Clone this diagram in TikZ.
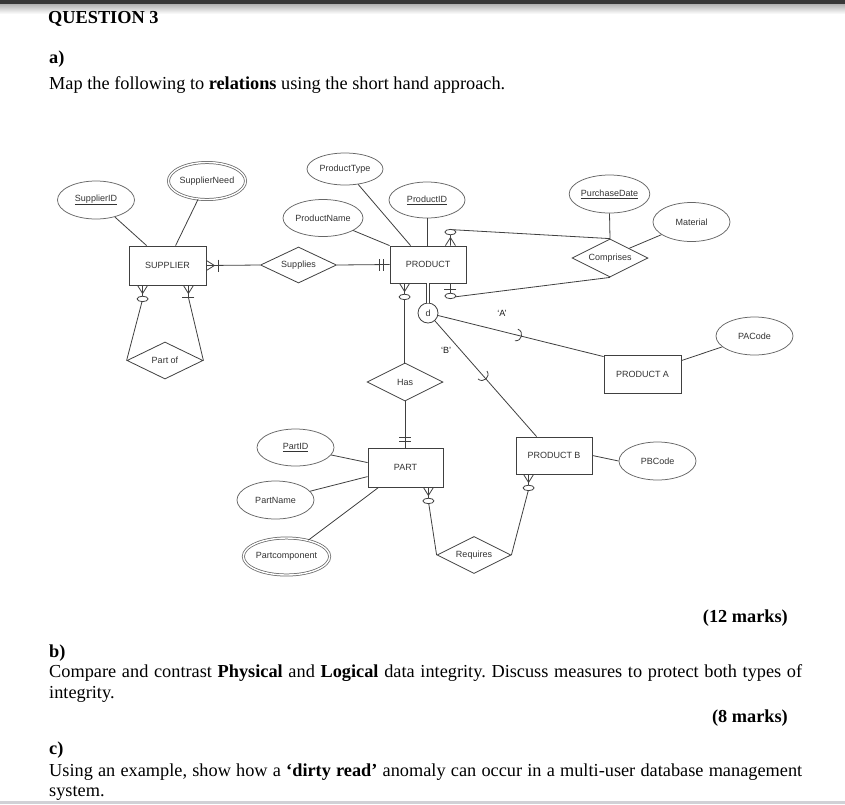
\documentclass[tikz,border=0pt]{standalone}
\usepackage{fontspec}
\setmainfont{Liberation Serif}
\newfontfamily\dsans{Liberation Sans}
\usetikzlibrary{shapes.geometric,calc}
\frenchspacing
\begin{document}
\begin{tikzpicture}[x=1pt,y=-1pt,
  every node/.style={inner sep=0pt},
  dfont/.style={font=\dsans\fontsize{9}{10}\selectfont, text=black!80},
  lnk/.style={draw=black!75, line width=0.8pt},
  ent/.style={rectangle, draw=black!75, line width=0.85pt, minimum width=76pt, minimum height=38pt, dfont},
  attr/.style={ellipse, draw=black!60, line width=0.75pt, minimum width=77pt, minimum height=37pt, dfont},
  multi/.style={attr, double, double distance=1.4pt},
  rel/.style={diamond, aspect=2, draw=black!75, line width=0.8pt, minimum width=76pt, minimum height=37pt, dfont},
  txt/.style={font=\fontsize{18.3}{21}\selectfont, anchor=base west, text=black},
  btxt/.style={font=\bfseries\fontsize{18.3}{21}\selectfont, anchor=base west, text=black},
  zmany/.pic={\draw[lnk] (0,-5)--(8,0)--(0,5); \draw[lnk, fill=white] (13.5,0) ellipse [x radius=2.7pt, y radius=5.5pt];},
  omany/.pic={\draw[lnk] (0,-5)--(8,0)--(0,5); \draw[lnk] (12,-6)--(12,6);},
  zone/.pic={\draw[lnk] (6,-6)--(6,6); \draw[lnk, fill=white] (12.5,0) ellipse [x radius=2.7pt, y radius=5.5pt];},
  mone/.pic={\draw[lnk] (6,-6)--(6,6); \draw[lnk] (10,-6)--(10,6);},
  subset/.pic={\draw[lnk] (-3,-6) .. controls (4,-5) and (4,5) .. (-3,6);}
]
\useasboundingbox (0,0) rectangle (845,804);
\fill[white] (0,0) rectangle (845,804);
% page decorations
\shade[top color=black!30, bottom color=white] (0,4) rectangle (845,14);
\fill[black!78] (0,0) rectangle (845,4);
\fill[blue!10!black!18] (0,801) rectangle (845,804);

% texts
\node[btxt] (q3) at (48,23) {QUESTION 3};
\node[btxt] (qa) at (49,63) {a)};
\node[txt] (qat) at (49,89) {Map the following to \textbf{relations} using the short hand approach.};
\node[btxt, anchor=base east] (m12) at (788,622) {(12 marks)};
\node[btxt] (qb) at (49,657) {b)};
\node[txt] (qbt1) at (49,677) {\makebox[753pt][s]{Compare and contrast \textbf{Physical} and \textbf{Logical} data integrity. Discuss measures to protect both types of}};
\node[txt] (qbt2) at (49,698) {integrity.};
\node[btxt, anchor=base east] (m8) at (788,722) {(8 marks)};
\node[btxt] (qc) at (49,754) {c)};
\node[txt] (qct1) at (49,776) {\makebox[753pt][s]{Using an example, show how a \textbf{‘dirty read’} anomaly can occur in a multi-user database management}};
\node[txt] (qct2) at (49,796) {system.};

% entities
\node[ent, minimum width=77pt, minimum height=39pt] (supplier) at (167.5,265.5) {SUPPLIER};
\node[ent, minimum height=37pt] (product) at (428,264.5) {PRODUCT};
\node[ent, minimum width=77pt] (proda) at (642.5,374) {PRODUCT A};
\node[ent, minimum height=37pt] (prodb) at (554,455.5) {PRODUCT B};
\node[ent, minimum width=75pt, minimum height=39pt] (part) at (405.5,467.5) {PART};

% attributes
\node[attr, minimum height=38pt] (supid) at (96,200) {\underline{SupplierID}};
\node[multi] (supneed) at (207,181) {SupplierNeed};
\node[attr, minimum width=76pt, minimum height=32pt] (ptype) at (345,169) {ProductType};
\node[attr, minimum width=76pt, minimum height=36pt] (pid) at (427,200) {\underline{ProductID}};
\node[attr, minimum width=80pt] (pname) at (323,218) {ProductName};
\node[attr, minimum height=38pt] (purch) at (609.5,194) {\underline{PurchaseDate}};
\node[attr, minimum height=39pt] (material) at (691.5,222) {Material};
\node[attr, minimum height=38pt] (pacode) at (754.5,336) {PACode};
\node[attr, minimum height=38pt] (pbcode) at (657.5,461) {PBCode};
\node[attr] (partid) at (295.5,447.5) {\underline{PartID}};
\node[attr, minimum height=38pt] (partname) at (275.5,500) {PartName};
\node[multi] (partcomp) at (286.5,556.5) {Partcomponent};

% relationships
\node[rel, minimum height=36pt] (supplies) at (298.5,265) {Supplies};
\node[rel, minimum height=38pt] (comprises) at (610,258) {Comprises};
\node[rel, minimum height=38pt] (has) at (405,382) {Has};
\node[rel, minimum width=74pt] (requires) at (474,555) {Requires};
\node[rel] (partof) at (165,360.5) {Part of};
\node[circle, draw=black!75, line width=0.8pt, minimum size=20pt, dfont] (dnode) at (428,313) {d};
\node[dfont, text=black!90] (la) at (502,313) {‘A’};
\node[dfont, text=black!90] (lb) at (446,350) {‘B’};

% anchor points
\coordinate (sbl) at ([xshift=14pt]supplier.south west);
\coordinate (sbr) at ([xshift=-18pt]supplier.south east);
\coordinate (ptr) at ([xshift=-16pt]product.north east);
\coordinate (pbr) at ([xshift=-16pt]product.south east);
\coordinate (pbl) at ([xshift=15pt]product.south west);
\coordinate (pbb) at ([xshift=13pt]prodb.south west);
\coordinate (ppb) at ([xshift=-15pt]part.south east);

% attribute links
\draw[lnk] (supid) -- ([xshift=18pt]supplier.north west);
\draw[lnk] (supneed) -- ([xshift=47pt]supplier.north west);
\draw[lnk] (ptype) -- ([xshift=21pt]product.north west);
\draw[lnk] (pid.south) -- (pid.south |- product.north);
\draw[lnk] (pname) -- (product.north west);
\draw[lnk] (purch.south) -- (comprises.north);
\draw[lnk] (material) -- ($(comprises.north)!0.5!(comprises.east)$);
\draw[lnk] ([yshift=-6pt]proda.north east) -- (pacode);
\draw[lnk] (prodb.east) -- (pbcode.west);
\draw[lnk] (partid) -- ([yshift=-15pt]part.north west);
\draw[lnk] (partname) -- ([yshift=-29pt]part.north west);
\draw[lnk] (partcomp) -- ([xshift=11pt]part.south west);

% relationship links
\draw[lnk] (supplier.east) -- (supplies.west);
\pic at (supplier.east) {omany};
\draw[lnk] (supplies.east) -- (product.west);
\pic[rotate=180] at (product.west) {mone};
\draw[lnk] (ptr) -- ++(0,-16) -- (comprises.north);
\pic[rotate=90] at (ptr) {zmany};
\draw[lnk] (pbr) -- ++(0,14) -- (comprises.south);
\pic[rotate=-90] at (pbr) {zone};
\draw[lnk] (pbl) -- (pbl |- has.north);
\pic[rotate=-90] at (pbl) {zmany};
\draw[lnk] (has.south) -- (has.south |- part.north);
\pic[rotate=90] at (has.south |- part.north) {mone};
\draw[lnk] (pbb) -- ++(0,15) -- (requires.east);
\pic[rotate=-90] at (pbb) {zmany};
\draw[lnk] (ppb) -- ++(0,14) -- (requires.west);
\pic[rotate=-90] at (ppb) {zmany};
\draw[lnk] (sbl) -- ++(0,14) -- (partof.west);
\pic[rotate=-90] at (sbl) {zmany};
\draw[lnk] (sbr) -- ++(0,12) -- (partof.east);
\pic[rotate=-90] at (sbr) {omany};

% specialisation
\draw[lnk, double, double distance=2.2pt, line width=0.6pt] (product.south -| dnode) -- (dnode.north);
\draw[lnk] (dnode) -- ([yshift=-2pt]proda.north west);
\pic[rotate=-14] at ($(dnode)!0.52!([yshift=-2pt]proda.north west)$) {subset};
\draw[lnk] (dnode) -- ([xshift=21pt]prodb.north west);
\pic[rotate=-48.7] at ($(dnode)!0.52!([xshift=21pt]prodb.north west)$) {subset};
\end{tikzpicture}
\end{document}
